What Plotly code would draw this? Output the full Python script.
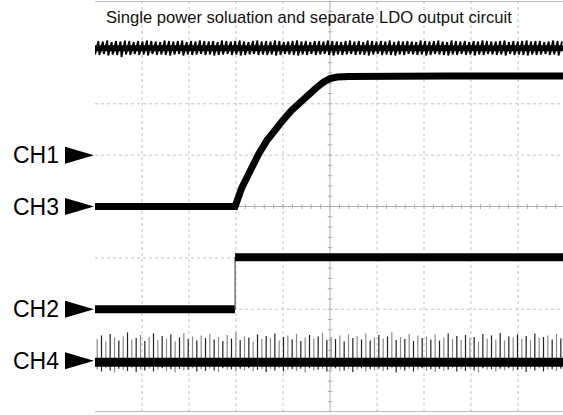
import plotly.graph_objects as go

# ---------------- data (in oscilloscope divisions) ----------------
TITLE = "Single power soluation and separate LDO output circuit"
CHANNELS = ["CH1", "CH3", "CH2", "CH4"]
CH_MARKERS = [1.0, 0.0, -2.0, -3.0]       # ground-reference arrow levels

X_MAX = 9.957                              # visible time span (div)

# CH1: rippled supply rail
CH1_LEVEL = 3.08
CH1_PEAKS = [0.14,0.13,0.15,0.12,0.14,0.13,0.15,0.14,0.12,0.14,
             0.13,0.15,0.14,0.13,0.12,0.15,0.14,0.13,0.14,0.15,
             0.12,0.14,0.13,0.15,0.14,0.13,0.14,0.12,0.15,0.14,
             0.13,0.14,0.15,0.13,0.12,0.14,0.15,0.13,0.14,0.13,
             0.15,0.14,0.12,0.13,0.14,0.15,0.13,0.14,0.12,0.14,
             0.14,0.13,0.15,0.14,0.13,0.12,0.14,0.15,0.13,0.14,
             0.12,0.15,0.14,0.13,0.14,0.13,0.15,0.12,0.14,0.13,
             0.14,0.13,0.12,0.15,0.14,0.13,0.14,0.15,0.13,0.12,
             0.15,0.14,0.13,0.14,0.12,0.14,0.13,0.15,0.14,0.13,
             0.13,0.14,0.15,0.12,0.14,0.13,0.14,0.15,0.13,0.14,
             0.14,0.12,0.13,0.15,0.14,0.13]
CH1_TROUGHS = [-0.12,-0.13,-0.11,-0.14,-0.12,-0.13,-0.17,-0.12,-0.13,-0.11,
               -0.13,-0.12,-0.14,-0.11,-0.13,-0.12,-0.13,-0.14,-0.12,-0.11,
               -0.14,-0.12,-0.13,-0.12,-0.11,-0.13,-0.12,-0.14,-0.13,-0.12,
               -0.11,-0.13,-0.12,-0.14,-0.13,-0.12,-0.11,-0.13,-0.12,-0.13,
               -0.12,-0.14,-0.13,-0.11,-0.12,-0.13,-0.14,-0.12,-0.13,-0.11,
               -0.13,-0.12,-0.11,-0.13,-0.14,-0.12,-0.13,-0.12,-0.11,-0.13,
               -0.12,-0.13,-0.14,-0.12,-0.11,-0.13,-0.12,-0.13,-0.14,-0.12,
               -0.13,-0.11,-0.12,-0.13,-0.12,-0.14,-0.13,-0.11,-0.12,-0.13,
               -0.14,-0.12,-0.13,-0.11,-0.13,-0.12,-0.14,-0.12,-0.13,-0.11,
               -0.12,-0.13,-0.12,-0.14,-0.11,-0.13,-0.12,-0.13,-0.14,-0.12,
               -0.13,-0.12,-0.11,-0.13,-0.12,-0.14]

# CH3: LDO output soft-start ramp
CH3_T = [0.0, 2.98, 3.12, 3.30, 3.48, 3.66, 3.83, 4.00, 4.18, 4.36, 4.54,
         4.72, 4.86, 5.00, 5.15, 5.40, 7.50, 9.957]
CH3_V = [0.0, 0.00, 0.36, 0.71, 1.02, 1.29, 1.50, 1.68, 1.87, 2.03, 2.18,
         2.32, 2.42, 2.49, 2.52, 2.53, 2.54, 2.54]

# CH2: enable / step signal
CH2_STEP_T = 2.98
CH2_LOW = -2.00
CH2_HIGH = -0.99

# CH4: switching node with spikes
CH4_LEVEL = -3.03
CH4_SPIKES = [0.45,0.52,0.40,0.55,0.48,0.42,0.50,0.58,0.44,0.47,
              0.53,0.41,0.49,0.56,0.43,0.51,0.46,0.54,0.40,0.48,
              0.57,0.45,0.50,0.42,0.52,0.47,0.55,0.44,0.49,0.41,
              0.53,0.46,0.58,0.43,0.50,0.48,0.40,0.54,0.45,0.51,
              0.47,0.56,0.42,0.49,0.52,0.44,0.55,0.41,0.48,0.53,
              0.46,0.50,0.57,0.43,0.49,0.45,0.52,0.40,0.54,0.47,
              0.51,0.44,0.56,0.42,0.48,0.53,0.46,0.50,0.58,0.43,
              0.49,0.45,0.55,0.41,0.52,0.47,0.50,0.44,0.54,0.42,
              0.48,0.56,0.45,0.51,0.43,0.53,0.47,0.49,0.40,0.55,
              0.46,0.52,0.44,0.57,0.42,0.50,0.48,0.54,0.45,0.51,
              0.43,0.56,0.47,0.49,0.52,0.44,0.55,0.46]
CH4_DIPS = [0.14,0.18,0.12,0.16,0.20,0.13,0.15,0.17,0.12,0.19,
            0.14,0.16,0.13,0.18,0.15,0.12,0.17,0.14,0.20,0.13,
            0.16,0.15,0.12,0.18,0.14,0.17,0.13,0.16,0.19,0.12,
            0.15,0.14,0.18,0.13,0.16,0.12,0.17,0.15,0.14,0.19,
            0.13,0.16,0.12,0.18,0.15,0.14,0.17,0.13,0.20,0.12,
            0.16,0.15,0.13,0.18,0.14,0.12,0.17,0.16,0.13,0.19,
            0.15,0.12,0.18,0.14,0.16,0.13,0.17,0.15,0.12,0.20,
            0.14,0.16,0.13,0.18,0.15,0.12,0.17,0.14,0.19,0.13,
            0.16,0.15,0.12,0.18,0.14,0.17,0.13,0.16,0.20,0.12,
            0.15,0.14,0.18,0.13,0.16,0.12,0.17,0.15,0.14,0.19,
            0.13,0.16,0.12,0.18,0.15,0.14,0.17,0.13]

# ---------------- figure ----------------
FONT = "Liberation Sans, Arial, sans-serif"
fig = go.Figure()

# CH1 ripple: dark core + sawtooth
p1 = X_MAX / len(CH1_PEAKS)
xs, ys = [], []
for i, (pk, tr) in enumerate(zip(CH1_PEAKS, CH1_TROUGHS)):
    x0 = i * p1
    xs += [x0, x0 + 0.78 * p1]
    ys += [CH1_LEVEL + tr, CH1_LEVEL + pk]
fig.add_trace(go.Scatter(x=[0, X_MAX], y=[CH1_LEVEL, CH1_LEVEL], mode="lines",
                         line=dict(color="black", width=6), hoverinfo="skip"))
fig.add_trace(go.Scatter(x=xs, y=ys, mode="lines",
                         line=dict(color="black", width=1.8), hoverinfo="skip"))

# CH3 ramp
fig.add_trace(go.Scatter(x=CH3_T, y=CH3_V, mode="lines",
                         line=dict(color="black", width=7), hoverinfo="skip"))

# CH2 step
fig.add_trace(go.Scatter(x=[0, CH2_STEP_T], y=[CH2_LOW, CH2_LOW], mode="lines",
                         line=dict(color="black", width=8), hoverinfo="skip"))
fig.add_trace(go.Scatter(x=[CH2_STEP_T, CH2_STEP_T], y=[CH2_LOW, CH2_HIGH], mode="lines",
                         line=dict(color="#555555", width=1.2), hoverinfo="skip"))
fig.add_trace(go.Scatter(x=[CH2_STEP_T, X_MAX], y=[CH2_HIGH, CH2_HIGH], mode="lines",
                         line=dict(color="black", width=8), hoverinfo="skip"))

# CH4 spikes
p4 = X_MAX / len(CH4_SPIKES)
for parity, col in ((0, "#8a8a8a"), (1, "#222222")):
    sx, sy = [], []
    for i, (up, dn) in enumerate(zip(CH4_SPIKES, CH4_DIPS)):
        if i % 2 != parity:
            continue
        x = (i + 0.5) * p4
        sx += [x, x, None]
        sy += [CH4_LEVEL - dn, CH4_LEVEL + up, None]
    fig.add_trace(go.Scatter(x=sx, y=sy, mode="lines",
                             line=dict(color=col, width=1.2), hoverinfo="skip"))
fig.add_trace(go.Scatter(x=[0, X_MAX], y=[CH4_LEVEL, CH4_LEVEL], mode="lines",
                         line=dict(color="black", width=9), hoverinfo="skip"))

# ---------------- graticule ----------------
GRID = "#c4c4c4"
shapes = []
for gx in range(1, 10):
    if gx == 5:
        continue
    shapes.append(dict(type="line", xref="x", yref="y", x0=gx, x1=gx, y0=-4, y1=4,
                       line=dict(color=GRID, width=1, dash="dot"), layer="below"))
for gy in range(-3, 4):
    if gy == 0:
        continue
    shapes.append(dict(type="line", xref="x", yref="y", x0=0, x1=X_MAX, y0=gy, y1=gy,
                       line=dict(color=GRID, width=1, dash="dot"), layer="below"))
# centre cross with minor ticks
shapes.append(dict(type="line", xref="x", yref="y", x0=5, x1=5, y0=-4, y1=4,
                   line=dict(color="#b0b0b0", width=1), layer="below"))
shapes.append(dict(type="line", xref="x", yref="y", x0=0, x1=X_MAX, y0=0, y1=0,
                   line=dict(color="#b0b0b0", width=1), layer="below"))
for k in range(-20, 21):
    yy = k * 0.2
    shapes.append(dict(type="line", xref="x", yref="y", x0=4.95, x1=5.05, y0=yy, y1=yy,
                       line=dict(color="#b0b0b0", width=1), layer="below"))
for k in range(0, 50):
    xx = k * 0.2
    shapes.append(dict(type="line", xref="x", yref="y", x0=xx, x1=xx, y0=-0.05, y1=0.05,
                       line=dict(color="#b0b0b0", width=1), layer="below"))
# top & bottom borders
for by in (-4, 4):
    shapes.append(dict(type="line", xref="x", yref="y", x0=0, x1=X_MAX, y0=by, y1=by,
                       line=dict(color="#a8a8a8", width=1.5), layer="below"))

# channel arrows + labels
annotations = []
for name, lvl in zip(CHANNELS, CH_MARKERS):
    yp = (lvl + 4) / 8
    h = 8.5 / 411
    x_left = (65 - 95) / 468
    x_tip = (94 - 95) / 468
    shapes.append(dict(type="path", xref="paper", yref="paper",
                       path=f"M {x_left},{yp - h} L {x_tip},{yp} L {x_left},{yp + h} Z",
                       fillcolor="black", line=dict(color="black", width=0)))
    annotations.append(dict(text=name, xref="paper", yref="paper", x=(61 - 95) / 468, y=yp,
                            xanchor="right", yanchor="middle", showarrow=False,
                            font=dict(family=FONT, size=23, color="black")))

annotations.append(dict(text=TITLE, xref="x", yref="y", x=4.55, y=3.67,
                        xanchor="center", yanchor="middle", showarrow=False,
                        font=dict(family=FONT, size=16.6, color="#111111")))

fig.update_layout(
    width=563, height=415,
    margin=dict(l=95, r=0, t=1, b=3),
    paper_bgcolor="white", plot_bgcolor="white",
    showlegend=False,
    xaxis=dict(range=[0, X_MAX], visible=False, fixedrange=True),
    yaxis=dict(range=[-4, 4], visible=False, fixedrange=True),
    shapes=shapes, annotations=annotations,
)

fig.write_html("out.html", config={"displayModeBar": False, "staticPlot": True},
               post_script="document.body.style.margin='0px';document.body.style.overflow='hidden';")
